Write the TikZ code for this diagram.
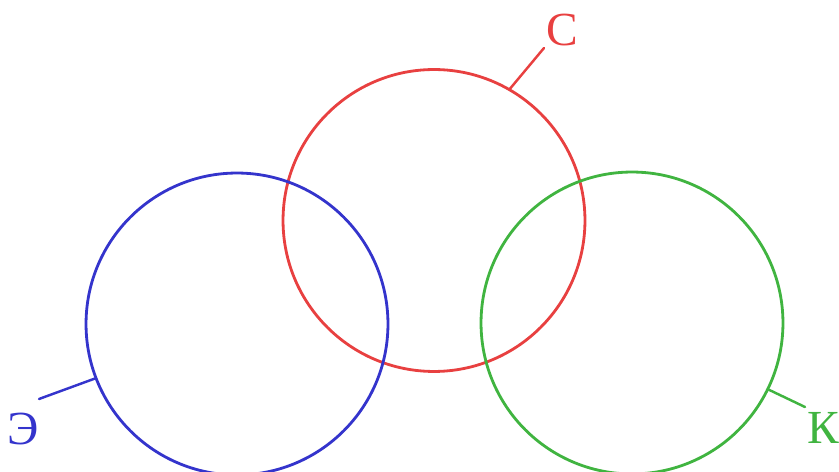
\documentclass[tikz,border=0pt]{standalone}
\usepackage{fontspec}
\setmainfont{Liberation Serif}
\usetikzlibrary{positioning}
\definecolor{setred}{RGB}{232,64,64}
\definecolor{setblue}{RGB}{52,52,204}
\definecolor{setgreen}{RGB}{64,180,64}
\tikzset{
  setcircle/.style={draw=#1, circle, line width=1.6pt, minimum size=6.04cm, inner sep=0pt},
  setlabel/.style={text=#1, font=\fontsize{27}{30}\selectfont, inner sep=0pt},
  leader/.style={draw=#1, line width=1.4pt, line cap=round}
}
\begin{document}
\begin{tikzpicture}[x=0.02cm, y=-0.02cm]
  \useasboundingbox (0,0) rectangle (839,472);
  % the three sets
  \node[setcircle=setred] (sred) at (434,220.5) {};
  \node[setcircle=setblue] (sblue) at (237,324) {};
  \node[setcircle=setgreen] (sgreen) at (632,323) {};
  % labels
  \node[setlabel=setred] (lc) at (562,30) {С};
  \node[setlabel=setblue] (le) at (23,429) {Э};
  \node[setlabel=setgreen] (lk) at (823,428) {К};
  \coordinate (ec) at (544,48);
  \coordinate (ee) at (39,399);
  \coordinate (ek) at (805,407);
  \draw[leader=setred] (sred.60) -- (ec);
  \draw[leader=setblue] (sblue.201) -- (ee);
  \draw[leader=setgreen] (sgreen.-26) -- (ek);
\end{tikzpicture}
\end{document}
